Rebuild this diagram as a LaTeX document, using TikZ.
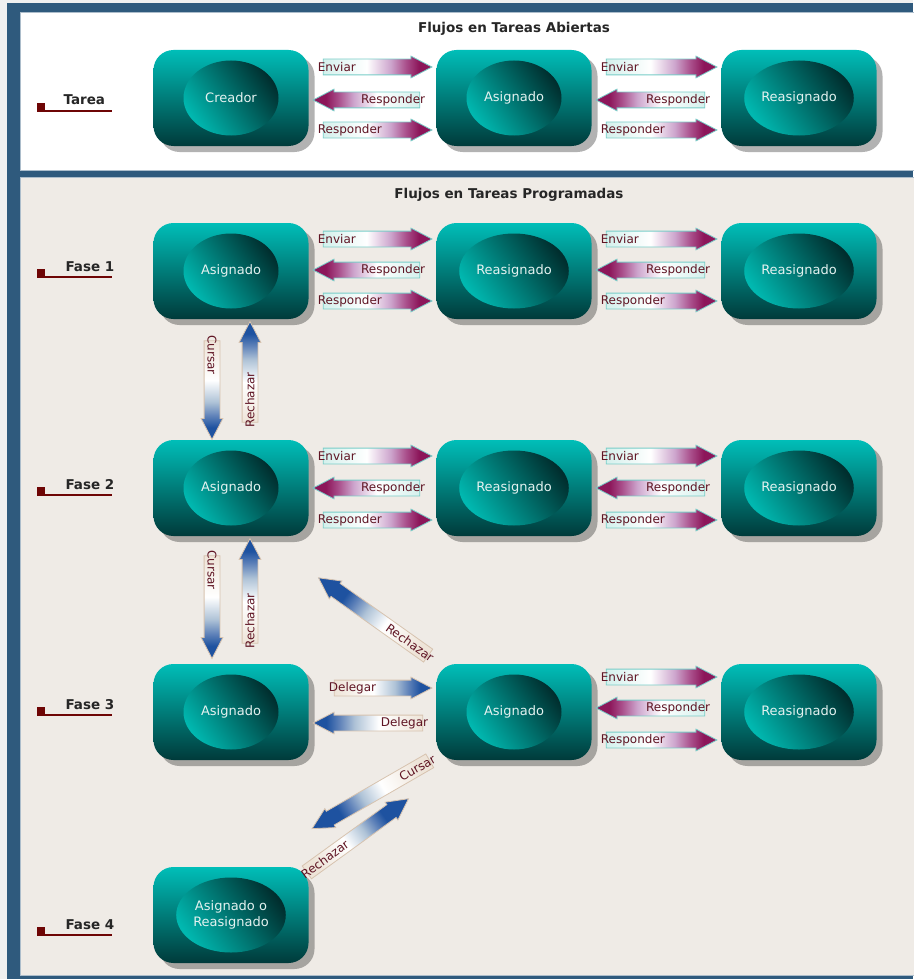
\documentclass[tikz,border=0pt]{standalone}
\usepackage{fontspec}
\setmainfont{DejaVu Sans}
\usetikzlibrary{shapes.geometric, shapes.arrows, shadows, calc}

\definecolor{marco}{RGB}{47,90,125}
\definecolor{fondo}{RGB}{239,235,230}
\definecolor{cajaarriba}{RGB}{0,190,184}
\definecolor{cajaabajo}{RGB}{0,58,58}
\definecolor{elipclaro}{RGB}{0,184,176}
\definecolor{eliposcuro}{RGB}{0,46,46}
\definecolor{textocaja}{RGB}{228,242,240}
\definecolor{granate}{RGB}{95,20,35}
\definecolor{marcafase}{RGB}{110,5,5}
\definecolor{colmag}{RGB}{140,22,90}
\definecolor{lila}{RGB}{205,165,205}
\definecolor{malva}{RGB}{170,80,140}
\definecolor{aguamarina}{RGB}{212,240,236}
\definecolor{tealclaro}{RGB}{120,205,200}
\definecolor{colazul}{RGB}{30,82,160}
\definecolor{azulgris}{RGB}{175,195,215}
\definecolor{azulmedio}{RGB}{95,130,185}
\definecolor{crema}{RGB}{238,228,216}
\definecolor{canela}{RGB}{215,195,175}

\pgfdeclarehorizontalshading{sombramag}{100bp}{color(0bp)=(aguamarina); color(25bp)=(aguamarina); color(45bp)=(white); color(56bp)=(lila); color(63bp)=(malva); color(69bp)=(colmag); color(100bp)=(colmag)}
\pgfdeclarehorizontalshading{sombraazul}{100bp}{color(0bp)=(crema); color(25bp)=(crema); color(45bp)=(white); color(56bp)=(azulgris); color(63bp)=(azulmedio); color(69bp)=(colazul); color(100bp)=(colazul)}

\begin{document}
\begin{tikzpicture}[x=1pt, y=-1pt,
    caja/.style={rectangle, rounded corners=20pt, minimum width=155pt, minimum height=96pt, top color=cajaarriba, bottom color=cajaabajo, drop shadow={shadow xshift=6pt, shadow yshift=-6pt, fill=black, opacity=.3}},
    estado/.style={ellipse, minimum width=95pt, minimum height=75pt, inner sep=1pt, left color=elipclaro, right color=eliposcuro, shading angle=125, text=textocaja, align=center, font=\fontsize{13}{16}\selectfont},
    titulo/.style={font=\fontsize{13.5}{16}\selectfont\bfseries, text=black!85},
    fase/.style={anchor=base west, font=\fontsize{13.5}{16}\selectfont\bfseries, text=black!85},
    marca/.style={marcafase, line width=1.3pt},
    cuerpo/.style={single arrow, inner sep=0pt, text height=15pt, single arrow head extend=3pt, single arrow tip angle=55, line width=.8pt},
    mag/.style={shade, shading=sombramag, draw=tealclaro},
    azul/.style={shade, shading=sombraazul, draw=canela},
    etiq/.style={sloped, pos=0, inner sep=2pt, text=granate, font=\fontsize{12}{14}\selectfont},
    flecha/.style={to path={let \p1=(\tikztostart), \p2=(\tikztotarget), \n1={atan2(\y2-\y1,\x2-\x1)}, \n2={veclen(\x2-\x1,\y2-\y1)} in node[cuerpo, #1, shading angle=\n1, rotate=\n1, minimum height=\n2] at ({(\x1+\x2)/2},{(\y1+\y2)/2}) {} (\p1) -- (\p2) \tikztonodes}}
]

% Marco
\useasboundingbox (0,0) rectangle (913,979);
\fill[black!6] (0,0) rectangle (913,979);
\fill[marco] (7,3) rectangle (913,979);
\filldraw[fill=white, draw=marco!40!white, line width=1pt] (20,13) rectangle (914,170);
\filldraw[fill=fondo, draw=marco!40!white, line width=1pt] (20,177) rectangle (914,975);

% Titulos
\node[titulo] (tit-abiertas) at (514,29) {Flujos en Tareas Abiertas};
\node[titulo] (tit-programadas) at (509,195) {Flujos en Tareas Programadas};

% Fases
\node[fase] (tarea) at (60,105) {Tarea};
\node[fase] (fase1) at (62,271) {Fase 1};
\node[fase] (fase2) at (62,489) {Fase 2};
\node[fase] (fase3) at (62,709) {Fase 3};
\node[fase] (fase4) at (62,929) {Fase 4};
\fill[marcafase] (37,103) rectangle (45,111);
\draw[marca] (37,111) -- (112,111);
\fill[marcafase] (37,269) rectangle (45,277);
\draw[marca] (37,277) -- (112,277);
\fill[marcafase] (37,487) rectangle (45,495);
\draw[marca] (37,495) -- (112,495);
\fill[marcafase] (37,707) rectangle (45,715);
\draw[marca] (37,715) -- (112,715);
\fill[marcafase] (37,927) rectangle (45,935);
\draw[marca] (37,935) -- (112,935);

% Tareas abiertas
\node[caja] (creador) at (231,98) {};
\node[estado] (creador-e) at (creador) {Creador};
\node[caja] (asig-t) at (514,98) {};
\node[estado] (asig-t-e) at (asig-t) {Asignado};
\node[caja] (reasig-t) at (799,98) {};
\node[estado] (reasig-t-e) at (reasig-t) {Reasignado};

% Fase 1
\node[caja] (asig-1) at (231,271) {};
\node[estado] (asig-1-e) at (asig-1) {Asignado};
\node[caja] (reasig-1a) at (514,271) {};
\node[estado] (reasig-1a-e) at (reasig-1a) {Reasignado};
\node[caja] (reasig-1b) at (799,271) {};
\node[estado] (reasig-1b-e) at (reasig-1b) {Reasignado};

% Fase 2
\node[caja] (asig-2) at (231,488) {};
\node[estado] (asig-2-e) at (asig-2) {Asignado};
\node[caja] (reasig-2a) at (514,488) {};
\node[estado] (reasig-2a-e) at (reasig-2a) {Reasignado};
\node[caja] (reasig-2b) at (799,488) {};
\node[estado] (reasig-2b-e) at (reasig-2b) {Reasignado};

% Fase 3
\node[caja] (asig-3a) at (231,712) {};
\node[estado] (asig-3a-e) at (asig-3a) {Asignado};
\node[caja] (asig-3b) at (514,712) {};
\node[estado] (asig-3b-e) at (asig-3b) {Asignado};
\node[caja] (reasig-3) at (799,712) {};
\node[estado] (reasig-3-e) at (reasig-3) {Reasignado};

% Fase 4
\node[caja] (asig-4) at (231,915) {};
\node[estado] (asig-4-e) at (asig-4) {Asignado o\\Reasignado};

% Enviar / Responder
\path[flecha=mag] ($(creador.east)+(7,-31)$) to node[etiq, anchor=west] {Enviar} ($(asig-t.west)+(-12,-31)$);
\path[flecha=mag] ($(asig-t.west)+(-9,2)$) to node[etiq, anchor=east] {Responder} ($(creador.east)+(12,2)$);
\path[flecha=mag] ($(creador.east)+(7,32)$) to node[etiq, anchor=west] {Responder} ($(asig-t.west)+(-12,32)$);
\path[flecha=mag] ($(asig-t.east)+(7,-31)$) to node[etiq, anchor=west] {Enviar} ($(reasig-t.west)+(-12,-31)$);
\path[flecha=mag] ($(reasig-t.west)+(-9,2)$) to node[etiq, anchor=east] {Responder} ($(asig-t.east)+(12,2)$);
\path[flecha=mag] ($(asig-t.east)+(7,32)$) to node[etiq, anchor=west] {Responder} ($(reasig-t.west)+(-12,32)$);

\path[flecha=mag] ($(asig-1.east)+(7,-32)$) to node[etiq, anchor=west] {Enviar} ($(reasig-1a.west)+(-12,-32)$);
\path[flecha=mag] ($(reasig-1a.west)+(-9,-1)$) to node[etiq, anchor=east] {Responder} ($(asig-1.east)+(12,-1)$);
\path[flecha=mag] ($(asig-1.east)+(7,30)$) to node[etiq, anchor=west] {Responder} ($(reasig-1a.west)+(-12,30)$);
\path[flecha=mag] ($(reasig-1a.east)+(7,-32)$) to node[etiq, anchor=west] {Enviar} ($(reasig-1b.west)+(-12,-32)$);
\path[flecha=mag] ($(reasig-1b.west)+(-9,-1)$) to node[etiq, anchor=east] {Responder} ($(reasig-1a.east)+(12,-1)$);
\path[flecha=mag] ($(reasig-1a.east)+(7,30)$) to node[etiq, anchor=west] {Responder} ($(reasig-1b.west)+(-12,30)$);

\path[flecha=mag] ($(asig-2.east)+(7,-32)$) to node[etiq, anchor=west] {Enviar} ($(reasig-2a.west)+(-12,-32)$);
\path[flecha=mag] ($(reasig-2a.west)+(-9,0)$) to node[etiq, anchor=east] {Responder} ($(asig-2.east)+(12,0)$);
\path[flecha=mag] ($(asig-2.east)+(7,32)$) to node[etiq, anchor=west] {Responder} ($(reasig-2a.west)+(-12,32)$);
\path[flecha=mag] ($(reasig-2a.east)+(7,-32)$) to node[etiq, anchor=west] {Enviar} ($(reasig-2b.west)+(-12,-32)$);
\path[flecha=mag] ($(reasig-2b.west)+(-9,0)$) to node[etiq, anchor=east] {Responder} ($(reasig-2a.east)+(12,0)$);
\path[flecha=mag] ($(reasig-2a.east)+(7,32)$) to node[etiq, anchor=west] {Responder} ($(reasig-2b.west)+(-12,32)$);

\path[flecha=mag] ($(asig-3b.east)+(7,-35)$) to node[etiq, anchor=west] {Enviar} ($(reasig-3.west)+(-12,-35)$);
\path[flecha=mag] ($(reasig-3.west)+(-9,-4)$) to node[etiq, anchor=east] {Responder} ($(asig-3b.east)+(12,-4)$);
\path[flecha=mag] ($(asig-3b.east)+(7,28)$) to node[etiq, anchor=west] {Responder} ($(reasig-3.west)+(-12,28)$);

% Cursar / Rechazar / Delegar
\path[flecha=azul] ($(asig-1.south)+(-19,14)$) to node[etiq, anchor=west] {Cursar} ($(asig-2.north)+(-19,-8)$);
\path[flecha=azul] ($(asig-2.north)+(19,-10)$) to node[etiq, anchor=west] {Rechazar} ($(asig-1.south)+(19,10)$);
\path[flecha=azul] ($(asig-2.south)+(-19,12)$) to node[etiq, anchor=west] {Cursar} ($(asig-3a.north)+(-19,-13)$);
\path[flecha=azul] ($(asig-3a.north)+(19,-13)$) to node[etiq, anchor=west] {Rechazar} ($(asig-2.south)+(19,10)$);
\path[flecha=azul] ($(asig-3b.west)+(-2,-52)$) to node[etiq, anchor=east] {Rechazar} ($(asig-2.south east)+(16,46)$);
\path[flecha=azul] ($(asig-3a.east)+(18,-24)$) to node[etiq, anchor=west] {Delegar} ($(asig-3b.west)+(-12,-24)$);
\path[flecha=azul] ($(asig-3b.west)+(-6,11)$) to node[etiq, anchor=east] {Delegar} ($(asig-3a.east)+(12,11)$);
\path[flecha=azul] ($(asig-3b.west)+(0,45)$) to node[etiq, anchor=east] {Cursar} ($(asig-4.north east)+(10,-42)$);
\path[flecha=azul] ($(asig-4.north east)+(-8,10)$) to node[etiq, anchor=west] {Rechazar} ($(asig-3b.south west)+(-34,43)$);

\end{tikzpicture}
\end{document}
